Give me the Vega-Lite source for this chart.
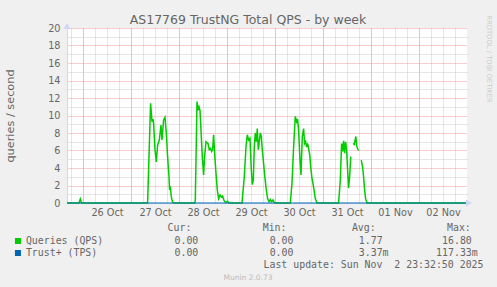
{
  "$schema": "https://vega.github.io/schema/vega-lite/v6.json",
  "width": 400,
  "height": 175,
  "autosize": {"type": "none"},
  "padding": {"left": 67, "top": 28, "right": 30, "bottom": 84},
  "background": "#F0F0F0",
  "config": {
    "view": {"fill": "#FFFFFF", "stroke": null},
    "font": "DejaVu Sans"
  },
  "title": {
    "text": "AS17769 TrustNG Total QPS - by week",
    "font": "DejaVu Sans",
    "fontSize": 12.5,
    "fontWeight": "normal",
    "color": "#666666",
    "anchor": "middle",
    "dx": -19,
    "offset": -12
  },
  "data": {
    "values": [
      {"t": "2025-10-25T16:00:00Z", "series": "Queries (QPS)", "v": 0},
      {"t": "2025-10-25T22:00:00Z", "series": "Queries (QPS)", "v": 0},
      {"t": "2025-10-25T22:39:00Z", "series": "Queries (QPS)", "v": 0.45},
      {"t": "2025-10-25T23:15:00Z", "series": "Queries (QPS)", "v": 0},
      {"t": "2025-10-27T08:18:00Z", "series": "Queries (QPS)", "v": 0},
      {"t": "2025-10-27T09:48:00Z", "series": "Queries (QPS)", "v": 11.4},
      {"t": "2025-10-27T10:30:00Z", "series": "Queries (QPS)", "v": 9.3},
      {"t": "2025-10-27T11:00:00Z", "series": "Queries (QPS)", "v": 9.6},
      {"t": "2025-10-27T11:18:00Z", "series": "Queries (QPS)", "v": 9.1},
      {"t": "2025-10-27T12:00:00Z", "series": "Queries (QPS)", "v": 6.1},
      {"t": "2025-10-27T12:39:00Z", "series": "Queries (QPS)", "v": 4.7},
      {"t": "2025-10-27T13:18:00Z", "series": "Queries (QPS)", "v": 6.6},
      {"t": "2025-10-27T14:09:00Z", "series": "Queries (QPS)", "v": 7.2},
      {"t": "2025-10-27T15:00:00Z", "series": "Queries (QPS)", "v": 8.9},
      {"t": "2025-10-27T15:30:00Z", "series": "Queries (QPS)", "v": 7.2},
      {"t": "2025-10-27T16:18:00Z", "series": "Queries (QPS)", "v": 9.5},
      {"t": "2025-10-27T17:00:00Z", "series": "Queries (QPS)", "v": 9.8},
      {"t": "2025-10-27T17:39:00Z", "series": "Queries (QPS)", "v": 8.0},
      {"t": "2025-10-27T18:18:00Z", "series": "Queries (QPS)", "v": 5.3},
      {"t": "2025-10-27T19:00:00Z", "series": "Queries (QPS)", "v": 3.0},
      {"t": "2025-10-27T19:18:00Z", "series": "Queries (QPS)", "v": 1.5},
      {"t": "2025-10-27T19:39:00Z", "series": "Queries (QPS)", "v": 1.9},
      {"t": "2025-10-27T20:09:00Z", "series": "Queries (QPS)", "v": 0.7},
      {"t": "2025-10-27T20:48:00Z", "series": "Queries (QPS)", "v": 0.1},
      {"t": "2025-10-27T21:24:00Z", "series": "Queries (QPS)", "v": 0},
      {"t": "2025-10-28T07:54:00Z", "series": "Queries (QPS)", "v": 0},
      {"t": "2025-10-28T08:09:00Z", "series": "Queries (QPS)", "v": 0.3},
      {"t": "2025-10-28T09:00:00Z", "series": "Queries (QPS)", "v": 11.6},
      {"t": "2025-10-28T09:30:00Z", "series": "Queries (QPS)", "v": 10.6},
      {"t": "2025-10-28T10:00:00Z", "series": "Queries (QPS)", "v": 11.0},
      {"t": "2025-10-28T10:30:00Z", "series": "Queries (QPS)", "v": 10.6},
      {"t": "2025-10-28T11:00:00Z", "series": "Queries (QPS)", "v": 8.3},
      {"t": "2025-10-28T11:39:00Z", "series": "Queries (QPS)", "v": 5.3},
      {"t": "2025-10-28T12:18:00Z", "series": "Queries (QPS)", "v": 3.2},
      {"t": "2025-10-28T12:48:00Z", "series": "Queries (QPS)", "v": 5.3},
      {"t": "2025-10-28T13:30:00Z", "series": "Queries (QPS)", "v": 7.0},
      {"t": "2025-10-28T14:30:00Z", "series": "Queries (QPS)", "v": 6.8},
      {"t": "2025-10-28T15:09:00Z", "series": "Queries (QPS)", "v": 6.1},
      {"t": "2025-10-28T15:48:00Z", "series": "Queries (QPS)", "v": 6.25},
      {"t": "2025-10-28T16:18:00Z", "series": "Queries (QPS)", "v": 5.9},
      {"t": "2025-10-28T16:48:00Z", "series": "Queries (QPS)", "v": 6.1},
      {"t": "2025-10-28T17:18:00Z", "series": "Queries (QPS)", "v": 7.8},
      {"t": "2025-10-28T17:48:00Z", "series": "Queries (QPS)", "v": 5.7},
      {"t": "2025-10-28T18:30:00Z", "series": "Queries (QPS)", "v": 3.4},
      {"t": "2025-10-28T19:09:00Z", "series": "Queries (QPS)", "v": 1.5},
      {"t": "2025-10-28T19:48:00Z", "series": "Queries (QPS)", "v": 0.5},
      {"t": "2025-10-28T20:30:00Z", "series": "Queries (QPS)", "v": 0.9},
      {"t": "2025-10-28T21:09:00Z", "series": "Queries (QPS)", "v": 0.7},
      {"t": "2025-10-28T21:48:00Z", "series": "Queries (QPS)", "v": 0.8},
      {"t": "2025-10-28T22:30:00Z", "series": "Queries (QPS)", "v": 0.3},
      {"t": "2025-10-28T23:18:00Z", "series": "Queries (QPS)", "v": 0.05},
      {"t": "2025-10-29T00:18:00Z", "series": "Queries (QPS)", "v": 0.2},
      {"t": "2025-10-29T00:54:00Z", "series": "Queries (QPS)", "v": 0},
      {"t": "2025-10-29T07:30:00Z", "series": "Queries (QPS)", "v": 0},
      {"t": "2025-10-29T08:39:00Z", "series": "Queries (QPS)", "v": 3.0},
      {"t": "2025-10-29T09:30:00Z", "series": "Queries (QPS)", "v": 6.4},
      {"t": "2025-10-29T10:09:00Z", "series": "Queries (QPS)", "v": 7.8},
      {"t": "2025-10-29T10:48:00Z", "series": "Queries (QPS)", "v": 7.2},
      {"t": "2025-10-29T11:30:00Z", "series": "Queries (QPS)", "v": 7.4},
      {"t": "2025-10-29T12:09:00Z", "series": "Queries (QPS)", "v": 3.8},
      {"t": "2025-10-29T12:39:00Z", "series": "Queries (QPS)", "v": 2.1},
      {"t": "2025-10-29T13:09:00Z", "series": "Queries (QPS)", "v": 2.6},
      {"t": "2025-10-29T13:39:00Z", "series": "Queries (QPS)", "v": 6.4},
      {"t": "2025-10-29T14:09:00Z", "series": "Queries (QPS)", "v": 8.0},
      {"t": "2025-10-29T14:39:00Z", "series": "Queries (QPS)", "v": 7.0},
      {"t": "2025-10-29T15:09:00Z", "series": "Queries (QPS)", "v": 8.5},
      {"t": "2025-10-29T15:39:00Z", "series": "Queries (QPS)", "v": 6.1},
      {"t": "2025-10-29T16:09:00Z", "series": "Queries (QPS)", "v": 7.0},
      {"t": "2025-10-29T16:39:00Z", "series": "Queries (QPS)", "v": 8.0},
      {"t": "2025-10-29T17:09:00Z", "series": "Queries (QPS)", "v": 7.6},
      {"t": "2025-10-29T17:39:00Z", "series": "Queries (QPS)", "v": 6.1},
      {"t": "2025-10-29T18:18:00Z", "series": "Queries (QPS)", "v": 4.5},
      {"t": "2025-10-29T19:00:00Z", "series": "Queries (QPS)", "v": 2.8},
      {"t": "2025-10-29T19:39:00Z", "series": "Queries (QPS)", "v": 1.5},
      {"t": "2025-10-29T20:18:00Z", "series": "Queries (QPS)", "v": 0.5},
      {"t": "2025-10-29T21:00:00Z", "series": "Queries (QPS)", "v": 0.15},
      {"t": "2025-10-29T21:39:00Z", "series": "Queries (QPS)", "v": 0.4},
      {"t": "2025-10-29T22:18:00Z", "series": "Queries (QPS)", "v": 0.15},
      {"t": "2025-10-29T23:00:00Z", "series": "Queries (QPS)", "v": 0.35},
      {"t": "2025-10-29T23:39:00Z", "series": "Queries (QPS)", "v": 0.05},
      {"t": "2025-10-30T00:24:00Z", "series": "Queries (QPS)", "v": 0},
      {"t": "2025-10-30T07:39:00Z", "series": "Queries (QPS)", "v": 0},
      {"t": "2025-10-30T08:30:00Z", "series": "Queries (QPS)", "v": 2.25},
      {"t": "2025-10-30T09:18:00Z", "series": "Queries (QPS)", "v": 6.4},
      {"t": "2025-10-30T10:09:00Z", "series": "Queries (QPS)", "v": 9.9},
      {"t": "2025-10-30T10:48:00Z", "series": "Queries (QPS)", "v": 9.3},
      {"t": "2025-10-30T11:18:00Z", "series": "Queries (QPS)", "v": 9.6},
      {"t": "2025-10-30T11:48:00Z", "series": "Queries (QPS)", "v": 8.3},
      {"t": "2025-10-30T12:30:00Z", "series": "Queries (QPS)", "v": 4.9},
      {"t": "2025-10-30T13:00:00Z", "series": "Queries (QPS)", "v": 3.2},
      {"t": "2025-10-30T13:39:00Z", "series": "Queries (QPS)", "v": 7.6},
      {"t": "2025-10-30T14:18:00Z", "series": "Queries (QPS)", "v": 8.5},
      {"t": "2025-10-30T14:48:00Z", "series": "Queries (QPS)", "v": 6.8},
      {"t": "2025-10-30T15:18:00Z", "series": "Queries (QPS)", "v": 7.0},
      {"t": "2025-10-30T15:48:00Z", "series": "Queries (QPS)", "v": 6.4},
      {"t": "2025-10-30T16:18:00Z", "series": "Queries (QPS)", "v": 6.8},
      {"t": "2025-10-30T16:48:00Z", "series": "Queries (QPS)", "v": 6.2},
      {"t": "2025-10-30T17:24:00Z", "series": "Queries (QPS)", "v": 5.5},
      {"t": "2025-10-30T17:54:00Z", "series": "Queries (QPS)", "v": 4.0},
      {"t": "2025-10-30T18:30:00Z", "series": "Queries (QPS)", "v": 2.8},
      {"t": "2025-10-30T19:00:00Z", "series": "Queries (QPS)", "v": 2.2},
      {"t": "2025-10-30T19:30:00Z", "series": "Queries (QPS)", "v": 1.5},
      {"t": "2025-10-30T20:09:00Z", "series": "Queries (QPS)", "v": 0.5},
      {"t": "2025-10-30T21:00:00Z", "series": "Queries (QPS)", "v": 0},
      {"t": "2025-10-31T07:48:00Z", "series": "Queries (QPS)", "v": 0},
      {"t": "2025-10-31T08:39:00Z", "series": "Queries (QPS)", "v": 2.6},
      {"t": "2025-10-31T09:18:00Z", "series": "Queries (QPS)", "v": 6.8},
      {"t": "2025-10-31T09:48:00Z", "series": "Queries (QPS)", "v": 5.9},
      {"t": "2025-10-31T10:18:00Z", "series": "Queries (QPS)", "v": 7.1},
      {"t": "2025-10-31T10:48:00Z", "series": "Queries (QPS)", "v": 5.7},
      {"t": "2025-10-31T11:18:00Z", "series": "Queries (QPS)", "v": 7.0},
      {"t": "2025-10-31T11:48:00Z", "series": "Queries (QPS)", "v": 6.1},
      {"t": "2025-10-31T12:18:00Z", "series": "Queries (QPS)", "v": 3.8},
      {"t": "2025-10-31T12:48:00Z", "series": "Queries (QPS)", "v": 1.7},
      {"t": "2025-10-31T13:18:00Z", "series": "Queries (QPS)", "v": 3.0},
      {"t": "2025-10-31T13:54:00Z", "series": "Queries (QPS)", "v": 5.3},
      {"t": "2025-10-31T14:24:00Z", "series": "Queries (QPS)", "v": null},
      {"t": "2025-10-31T15:00:00Z", "series": "Queries (QPS)", "v": 6.8},
      {"t": "2025-10-31T15:39:00Z", "series": "Queries (QPS)", "v": 6.7},
      {"t": "2025-10-31T16:24:00Z", "series": "Queries (QPS)", "v": 7.6},
      {"t": "2025-10-31T16:54:00Z", "series": "Queries (QPS)", "v": 6.5},
      {"t": "2025-10-31T17:18:00Z", "series": "Queries (QPS)", "v": 6.2},
      {"t": "2025-10-31T17:48:00Z", "series": "Queries (QPS)", "v": 6.0},
      {"t": "2025-10-31T18:30:00Z", "series": "Queries (QPS)", "v": null},
      {"t": "2025-10-31T19:09:00Z", "series": "Queries (QPS)", "v": 4.9},
      {"t": "2025-10-31T19:48:00Z", "series": "Queries (QPS)", "v": 4.1},
      {"t": "2025-10-31T20:18:00Z", "series": "Queries (QPS)", "v": 3.0},
      {"t": "2025-10-31T20:48:00Z", "series": "Queries (QPS)", "v": 1.5},
      {"t": "2025-10-31T21:18:00Z", "series": "Queries (QPS)", "v": 0.5},
      {"t": "2025-10-31T22:00:00Z", "series": "Queries (QPS)", "v": 0},
      {"t": "2025-11-02T23:30:00Z", "series": "Queries (QPS)", "v": 0},
      {"t": "2025-10-25T16:00:00Z", "series": "Trust+ (TPS)", "v": 0},
      {"t": "2025-11-03T00:00:00Z", "series": "Trust+ (TPS)", "v": 0}
    ]
  },
  "layer": [
    {
      "transform": [{"filter": "datum.series == 'Queries (QPS)'"}],
      "mark": {"type": "line", "strokeWidth": 1.5},
      "encoding": {
        "x": {
          "field": "t",
          "type": "temporal",
          "scale": {
            "type": "utc",
            "domain": ["2025-10-25T16:00:00Z", "2025-11-03T00:00:00Z"],
            "nice": false
          },
          "axis": {
            "orient": "bottom",
            "values": [1761415200000, 1761436800000, 1761458400000, 1761480000000, 1761501600000, 1761523200000, 1761544800000, 1761566400000, 1761588000000, 1761609600000, 1761631200000, 1761652800000, 1761674400000, 1761696000000, 1761717600000, 1761739200000, 1761760800000, 1761782400000, 1761804000000, 1761825600000, 1761847200000, 1761868800000, 1761890400000, 1761912000000, 1761933600000, 1761955200000, 1761976800000, 1761998400000, 1762020000000, 1762041600000, 1762063200000, 1762084800000, 1762106400000],
            "grid": true,
            "gridColor": "#cccccc",
            "gridDash": [1, 1],
            "ticks": false,
            "domainColor": "#CFD6F8",
            "labelExpr": "utchours(datum.value) == 12 ? utcFormat(datum.value, '%d %b') : ''",
            "labelFont": "DejaVu Sans",
            "labelFontSize": 9.7,
            "labelColor": "#666666",
            "labelPadding": 4,
            "labelOverlap": false,
            "labelFlush": false,
            "title": "Last update: Sun Nov\u00a0\u00a02 23:32:50 2025",
            "titleX": 416,
            "titleY": 61,
            "titleAlign": "right",
            "titleBaseline": "middle",
            "titleFont": "DejaVu Sans Mono",
            "titleFontSize": 9.9,
            "titleFontWeight": "normal",
            "titleColor": "#666666"
          }
        },
        "y": {
          "field": "v",
          "type": "quantitative",
          "scale": {"domain": [0, 20], "nice": false},
          "axis": {
            "orient": "right",
            "values": [1, 3, 5, 7, 9, 11, 13, 15, 17, 19],
            "grid": true,
            "gridColor": "#cccccc",
            "gridDash": [1, 1],
            "ticks": false,
            "labels": false,
            "domain": false,
            "title": "RRDTOOL / TOBI OETIKER",
            "titleAngle": 90,
            "titleX": 21,
            "titleY": 30.5,
            "titleAlign": "center",
            "titleBaseline": "middle",
            "titleFont": "DejaVu Sans",
            "titleFontSize": 6.8,
            "titleFontWeight": "normal",
            "titleColor": "#cccccc"
          }
        },
        "color": {
          "field": "series",
          "type": "nominal",
          "scale": {"domain": ["Queries (QPS)", "Trust+ (TPS)"], "range": ["#00CC00", "#0066B3"]},
          "legend": {
            "orient": "none",
            "legendX": -54,
            "legendY": 195,
            "direction": "vertical",
            "padding": 0,
            "title": "\u200b\u00a0\u00a0\u00a0\u00a0\u00a0\u00a0\u00a0\u00a0\u00a0\u00a0\u00a0\u00a0\u00a0\u00a0\u00a0\u00a0\u00a0\u00a0\u00a0\u00a0\u00a0\u00a0\u00a0\u00a0\u00a0\u00a0Cur:\u00a0\u00a0\u00a0\u00a0\u00a0\u00a0\u00a0\u00a0\u00a0\u00a0\u00a0\u00a0Min:\u00a0\u00a0\u00a0\u00a0\u00a0\u00a0\u00a0\u00a0\u00a0\u00a0\u00a0Avg:\u00a0\u00a0\u00a0\u00a0\u00a0\u00a0\u00a0\u00a0\u00a0\u00a0\u00a0\u00a0Max:",
            "titleFont": "DejaVu Sans Mono",
            "titleFontSize": 9.9,
            "titleFontWeight": "normal",
            "titleColor": "#666666",
            "titlePadding": 2,
            "titleLimit": 1000,
            "labelFont": "DejaVu Sans Mono",
            "labelFontSize": 9.9,
            "labelColor": "#666666",
            "labelLimit": 1000,
            "labelOffset": 3,
            "labelExpr": "datum.label == 'Queries (QPS)' ? 'Queries (QPS)\u00a0\u00a0\u00a0\u00a0\u00a0\u00a0\u00a0\u00a0\u00a0\u00a0\u00a0\u00a00.00\u00a0\u00a0\u00a0\u00a0\u00a0\u00a0\u00a0\u00a0\u00a0\u00a0\u00a0\u00a00.00\u00a0\u00a0\u00a0\u00a0\u00a0\u00a0\u00a0\u00a0\u00a0\u00a0\u00a01.77\u00a0\u00a0\u00a0\u00a0\u00a0\u00a0\u00a0\u00a0\u00a0\u00a016.80' : 'Trust+ (TPS)\u00a0\u00a0\u00a0\u00a0\u00a0\u00a0\u00a0\u00a0\u00a0\u00a0\u00a0\u00a0\u00a00.00\u00a0\u00a0\u00a0\u00a0\u00a0\u00a0\u00a0\u00a0\u00a0\u00a0\u00a0\u00a00.00\u00a0\u00a0\u00a0\u00a0\u00a0\u00a0\u00a0\u00a0\u00a0\u00a0\u00a03.37m\u00a0\u00a0\u00a0\u00a0\u00a0\u00a0\u00a0\u00a0117.33m'",
            "symbolType": "square",
            "symbolSize": 1,
            "symbolStrokeWidth": 5,
            "symbolOpacity": 1,
            "clipHeight": 12,
            "rowPadding": 0
          }
        }
      }
    },
    {
      "transform": [{"filter": "datum.series == 'Trust+ (TPS)'"}],
      "mark": {"type": "line", "strokeWidth": 1},
      "encoding": {
        "x": {
          "field": "t",
          "type": "temporal",
          "axis": {
            "orient": "bottom",
            "values": [1761436800000, 1761523200000, 1761609600000, 1761696000000, 1761782400000, 1761868800000, 1761955200000, 1762041600000],
            "grid": true,
            "gridColor": "#ee9a9a",
            "gridDash": [1, 1],
            "ticks": false,
            "labels": false,
            "domain": false,
            "title": "Munin 2.0.73",
            "titleX": 180.5,
            "titleY": 74,
            "titleAlign": "center",
            "titleBaseline": "middle",
            "titleFont": "DejaVu Sans",
            "titleFontSize": 7.5,
            "titleFontWeight": "normal",
            "titleColor": "#bbbbbb"
          }
        },
        "y": {
          "field": "v",
          "type": "quantitative",
          "axis": {
            "orient": "left",
            "values": [0, 2, 4, 6, 8, 10, 12, 14, 16, 18, 20],
            "grid": true,
            "gridColor": "#ee9a9a",
            "gridDash": [1, 1],
            "ticks": false,
            "domainColor": "#CFD6F8",
            "labelFont": "DejaVu Sans",
            "labelFontSize": 9.7,
            "labelColor": "#666666",
            "labelPadding": 7,
            "labelOverlap": false,
            "title": "queries / second",
            "titleX": -57,
            "titleY": 87.5,
            "titleAngle": -90,
            "titleAlign": "center",
            "titleBaseline": "middle",
            "titleFont": "DejaVu Sans",
            "titleFontSize": 11.3,
            "titleFontWeight": "normal",
            "titleColor": "#666666"
          }
        },
        "color": {"field": "series", "type": "nominal"}
      }
    },
    {
      "data": {"values": [{}]},
      "mark": {"type": "point", "shape": "triangle-right", "filled": true, "color": "#CFD6F8", "size": 50, "opacity": 1, "xOffset": 2},
      "encoding": {
        "x": {"datum": 1762128000000, "type": "temporal", "axis": null},
        "y": {"datum": 0, "type": "quantitative", "axis": null}
      }
    },
    {
      "data": {"values": [{}]},
      "mark": {"type": "point", "shape": "triangle-up", "filled": true, "color": "#CFD6F8", "size": 50, "opacity": 1, "yOffset": -2},
      "encoding": {
        "x": {"datum": 1761408000000, "type": "temporal", "axis": null},
        "y": {"datum": 20, "type": "quantitative", "axis": null}
      }
    }
  ],
  "resolve": {"axis": {"x": "independent", "y": "independent"}}
}
